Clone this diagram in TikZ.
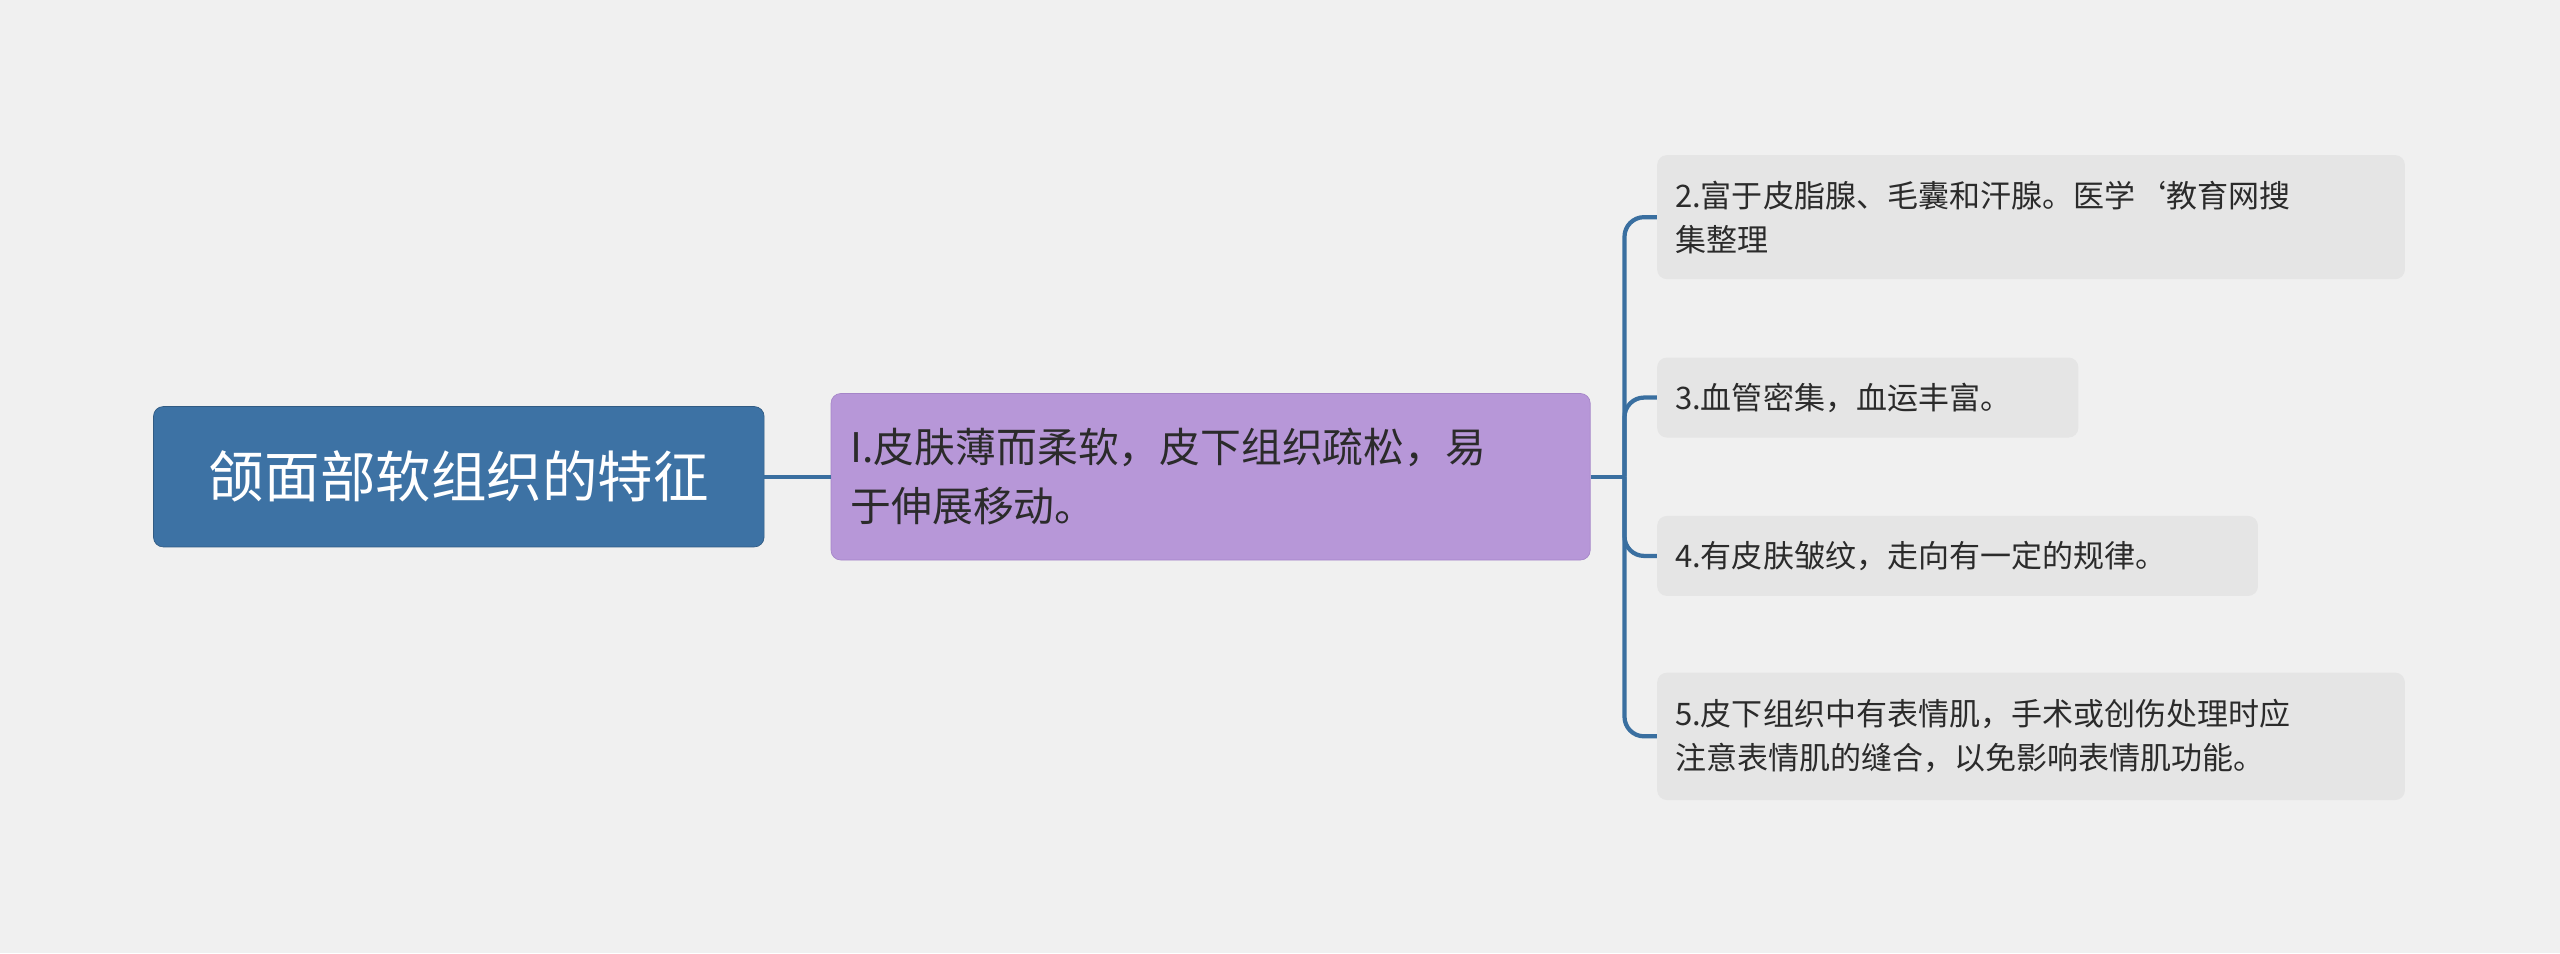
\documentclass[tikz,border=0pt]{standalone}
\usepackage{fontspec}
\setmainfont{Noto Sans CJK SC}
\definecolor{bg}{HTML}{F0F0F0}
\definecolor{rootc}{HTML}{3D72A4}
\definecolor{midc}{HTML}{B797D8}
\definecolor{midb}{HTML}{A585C8}
\definecolor{leafc}{HTML}{E5E5E5}
\definecolor{linec}{HTML}{3A6FA0}
\definecolor{txt}{HTML}{2B2B2B}
\begin{document}
\begin{tikzpicture}[x=1pt,y=-1pt,
  rootbox/.style={fill=rootc,draw=rootc!80!black,rounded corners=6pt,text=white,font=\fontsize{34}{40}\selectfont,minimum width=374pt,minimum height=86pt,inner sep=0pt},
  midbox/.style={fill=midc,draw=midb,rounded corners=6pt,text=txt,font=\fontsize{25}{36}\selectfont,minimum width=465pt,minimum height=102pt,text width=441pt,inner sep=12pt,align=left},
  leafbox/.style={fill=leafc,rounded corners=6pt,text=txt,font=\fontsize{19}{27}\selectfont,inner sep=11pt,align=left},
  conn/.style={draw=linec,line width=2.6pt}]
\fill[bg] (0,0) rectangle (1568,584);
\node[rootbox] (root) at (281,292) {颌面部软组织的特征};
\node[midbox] (mid) at (741.5,292) {I.皮肤薄而柔软，皮下组织疏松，易\\于伸展移动。};
\node[leafbox,minimum width=458pt,minimum height=76pt,text width=436pt] (l1) at (1244,133) {2.富于皮脂腺、毛囊和汗腺。医学`教育网搜\\集整理};
\node[leafbox,minimum width=258pt,minimum height=49pt,text width=236pt] (l2) at (1144,243.5) {3.血管密集，血运丰富。};
\node[leafbox,minimum width=368pt,minimum height=49pt,text width=346pt] (l3) at (1199,340.5) {4.有皮肤皱纹，走向有一定的规律。};
\node[leafbox,minimum width=458pt,minimum height=78pt,text width=436pt] (l4) at (1244,451) {5.皮下组织中有表情肌，手术或创伤处理时应\\注意表情肌的缝合，以免影响表情肌功能。};
\coordinate (j) at (995,292);
\draw[conn] (root.east) -- (mid.west);
\draw[conn] (mid.east) -- (j);
\foreach \l in {l1,l2,l3,l4} \draw[conn,rounded corners=12pt] (j) |- (\l.west);
\end{tikzpicture}
\end{document}
